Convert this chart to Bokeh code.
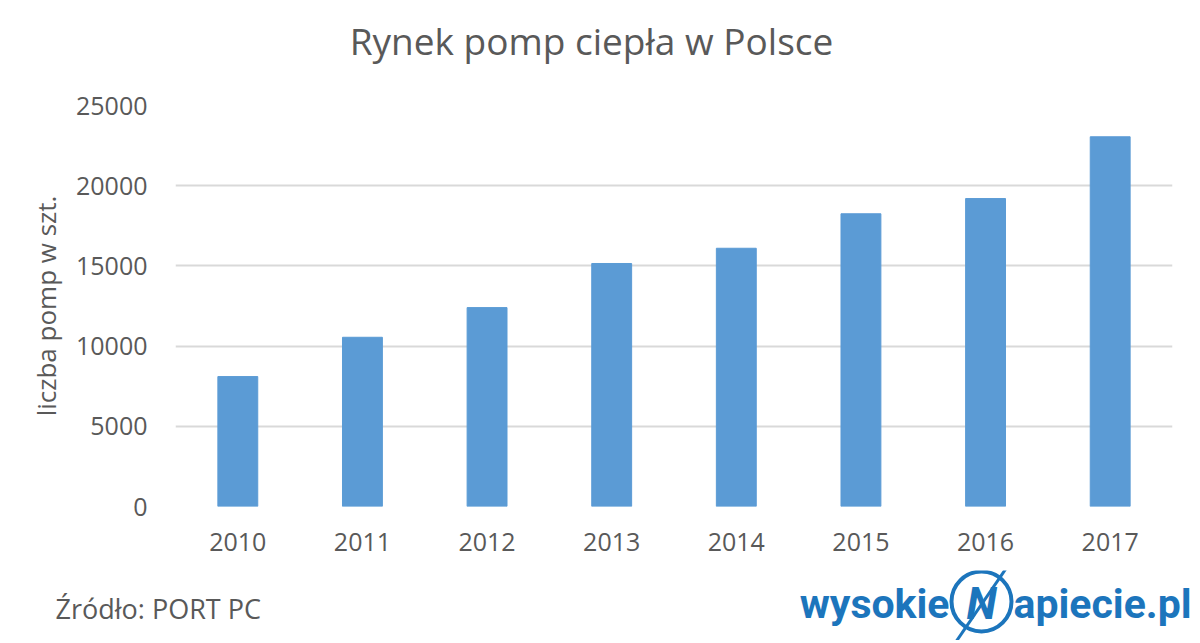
from bokeh.plotting import figure
from bokeh.models import Range1d, FactorRange, SingleIntervalTicker
from bokeh.layouts import column
from bokeh.core.properties import value
from bokeh.embed import file_html
from bokeh.resources import INLINE

years = ["2010", "2011", "2012", "2013", "2014", "2015", "2016", "2017"]
pumps = [8100, 10550, 12400, 15150, 16100, 18250, 19200, 23050]
title_text = "Rynek pomp ciepła w Polsce"
y_label = "liczba pomp w szt."
source_text = "Źródło: PORT PC"

TXT = "#595959"
FONT = "Open Sans"
BLUE = "#1c75bc"
W = 1195


def blank(height, y_top, y_bottom):
    f = figure(width=W, height=height, x_range=Range1d(0, W), y_range=Range1d(y_bottom, y_top),
               output_backend="svg", toolbar_location=None, x_axis_type=None, y_axis_type=None,
               min_border=0, min_border_left=0, min_border_right=0, min_border_top=0,
               min_border_bottom=0)
    f.frame_align = False
    f.outline_line_color = None
    f.xgrid.grid_line_color = None
    f.ygrid.grid_line_color = None
    return f


# header (page y 0..85)
head = blank(85, 0, 85)
head.text(x=[591], y=[40], text=[title_text], text_align="center", text_baseline="middle",
          text_font=value(FONT), text_font_size="37px", text_color=TXT)

# main chart
p = figure(width=W, height=485, x_range=FactorRange(*years), y_range=Range1d(0, 25000),
           output_backend="svg", toolbar_location=None,
           min_border_left=175, min_border_right=23, min_border_top=20, min_border_bottom=64)
p.frame_align = False
p.outline_line_color = None
p.vbar(x=years, top=pumps, width=0.32, color="#5b9bd5")
p.xgrid.grid_line_color = None
p.ygrid.grid_line_color = "#d9d9d9"
p.ygrid.grid_line_width = 2
p.yaxis.ticker = SingleIntervalTicker(interval=5000)
for ax in (p.xaxis[0], p.yaxis[0]):
    ax.axis_line_color = None
    ax.major_tick_line_color = None
    ax.minor_tick_line_color = None
    ax.major_label_text_color = TXT
    ax.major_label_text_font = FONT
    ax.major_label_text_font_size = "25px"
p.yaxis.major_label_standoff = 22
p.xaxis.major_label_standoff = 20
p.yaxis.axis_label = y_label
p.yaxis.axis_label_text_font = FONT
p.yaxis.axis_label_text_font_size = "26px"
p.yaxis.axis_label_text_font_style = "normal"
p.yaxis.axis_label_text_color = TXT
p.yaxis.axis_label_standoff = 9

# footer (page y 570..640)
foot = blank(70, 570, 640)
foot.text(x=[55], y=[608], text=[source_text], text_align="left", text_baseline="middle",
          text_font=value(FONT), text_font_size="27px", text_color=TXT)
LOGO_FONT = value("Roboto")
foot.text(x=[949], y=[603], text=["wysokie"], text_align="right", text_baseline="middle",
          text_font=LOGO_FONT, text_font_style="bold", text_font_size="41px", text_color=BLUE)
foot.text(x=[1013], y=[603], text=["apiecie.pl"], text_align="left", text_baseline="middle",
          text_font=LOGO_FONT, text_font_style="bold", text_font_size="41px", text_color=BLUE)
foot.scatter(x=[981], y=[601], marker="circle", size=60, fill_color=None,
             line_color=BLUE, line_width=4)
foot.segment(x0=[1011], y0=[560], x1=[955], y1=[642], line_color=BLUE, line_width=3)
foot.text(x=[981], y=[603], text=["N"], text_align="center", text_baseline="middle",
          text_font=LOGO_FONT, text_font_style="bold italic", text_font_size="44px",
          text_color=BLUE)

layout = column(head, p, foot, spacing=0)
open("out.html", "w").write(file_html(layout, INLINE))
